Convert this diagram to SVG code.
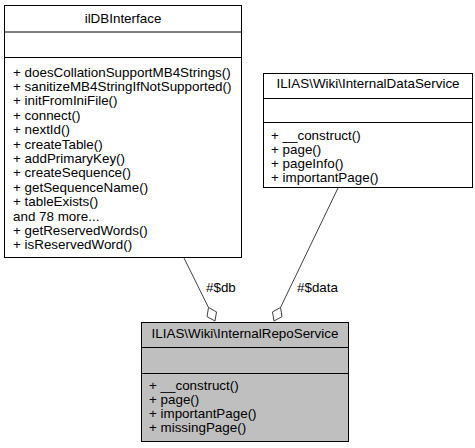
<svg xmlns="http://www.w3.org/2000/svg" width="475" height="448" viewBox="0 0 475 448">
<style>
text{font-family:"Liberation Sans",Arial,sans-serif;font-size:13.4px;fill:#000}
.c{text-anchor:middle}
.box{fill:#fff;stroke:#000;stroke-width:1}
.gray{fill:#bfbfbf;stroke:#000;stroke-width:1}
.sep{stroke:#000;stroke-width:1}
.edge{stroke:#404040;stroke-width:1;fill:none}
.dia{stroke:#404040;stroke-width:1;fill:#fff}
</style>
<rect width="475" height="448" fill="#fff"/>
<g id="connectors">
<line class="edge" x1="184" y1="258" x2="208.5" y2="307.5"/>
<polygon class="dia" points="215,321 207,316.6 208.5,307.5 216.5,311.9"/>
<text x="206" y="292">#$db</text>
<line class="edge" x1="338" y1="188" x2="280.5" y2="307.5"/>
<polygon class="dia" points="274,321 272.5,311.9 280.5,307.5 282,316.6"/>
<text x="297" y="292">#$data</text>
</g>
<g id="ilDBInterface">
<rect class="box" x="4.5" y="5.5" width="237" height="252"/>
<line class="sep" x1="4.5" y1="32" x2="241.5" y2="32"/>
<line class="sep" x1="4.5" y1="57.5" x2="241.5" y2="57.5"/>
<text class="c" x="123" y="23">ilDBInterface</text>
<text x="13" y="76.5">+ doesCollationSupportMB4Strings()</text>
<text x="13" y="90.9">+ sanitizeMB4StringIfNotSupported()</text>
<text x="13" y="105.3">+ initFromIniFile()</text>
<text x="13" y="119.7">+ connect()</text>
<text x="13" y="134.1">+ nextId()</text>
<text x="13" y="148.5">+ createTable()</text>
<text x="13" y="162.9">+ addPrimaryKey()</text>
<text x="13" y="177.3">+ createSequence()</text>
<text x="13" y="191.7">+ getSequenceName()</text>
<text x="13" y="206.1">+ tableExists()</text>
<text x="13" y="220.5">and 78 more...</text>
<text x="13" y="234.9">+ getReservedWords()</text>
<text x="13" y="249.3">+ isReservedWord()</text>
</g>
<g id="InternalDataService">
<rect class="box" x="263.5" y="73.5" width="209" height="114"/>
<line class="sep" x1="263.5" y1="98.5" x2="472.5" y2="98.5"/>
<line class="sep" x1="263.5" y1="122.5" x2="472.5" y2="122.5"/>
<text class="c" x="368" y="88">ILIAS\Wiki\InternalDataService</text>
<text x="271" y="140">+ __construct()</text>
<text x="271" y="154">+ page()</text>
<text x="271" y="168">+ pageInfo()</text>
<text x="271" y="182">+ importantPage()</text>
</g>
<g id="InternalRepoService">
<rect class="gray" x="141.5" y="322.5" width="207" height="119"/>
<line class="sep" x1="141.5" y1="347.5" x2="348.5" y2="347.5"/>
<line class="sep" x1="141.5" y1="373.5" x2="348.5" y2="373.5"/>
<text class="c" x="245" y="338">ILIAS\Wiki\InternalRepoService</text>
<text x="149" y="389.5">+ __construct()</text>
<text x="149" y="403.5">+ page()</text>
<text x="149" y="418">+ importantPage()</text>
<text x="149" y="432">+ missingPage()</text>
</g>
</svg>
